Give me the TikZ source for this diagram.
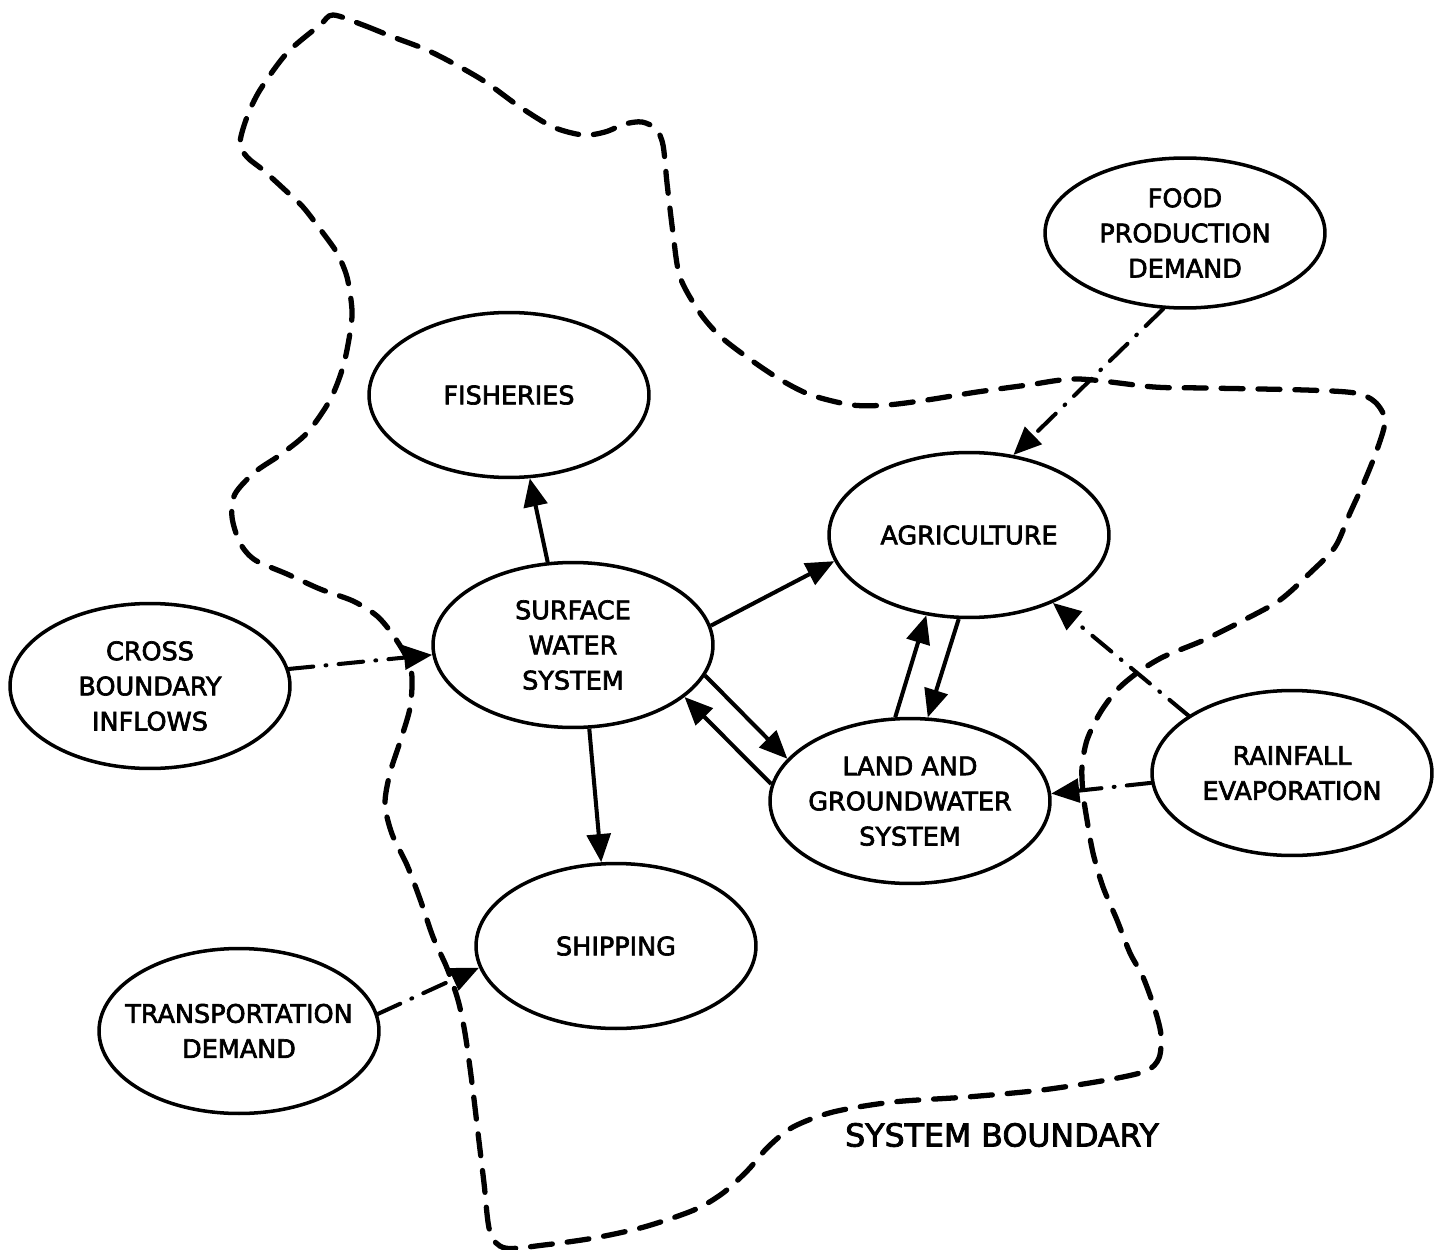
\documentclass[tikz,border=0pt]{standalone}
\usepackage{fontspec}
\setmainfont{DejaVu Sans}[BoldFont={DejaVu Sans}, BoldFeatures={FakeBold=2.6}]
\usetikzlibrary{arrows.meta,shapes.geometric}

% centred multi-line label that does not enlarge its ellipse
\newcommand{\ovaltxt}[1]{\smash{\raisebox{-4.9pt}{\makebox[0pt]{\begin{tabular}{@{}c@{}}#1\end{tabular}}}}}

\tikzset{
  oval/.style={ellipse, draw, line width=2pt, minimum width=5.6cm,
    minimum height=3.3cm, inner sep=0pt,
    font=\fontsize{14.5pt}{20pt}\selectfont\bfseries},
  flow/.style={-{Triangle[length=16pt,width=13.5pt]}, line width=2.3pt},
  feed/.style={flow, line cap=round,
    dash pattern=on 14pt off 7pt on 0.5pt off 7pt},
  boundary/.style={line width=3pt, line cap=round,
    dash pattern=on 12.5pt off 8.5pt},
}

\begin{document}
\begin{tikzpicture}[x=0.02cm, y=-0.02cm]
\fill[white] (0,0) rectangle (1440,1250);
\useasboundingbox (0,0) rectangle (1440,1250);

% system boundary
\draw[boundary] plot[smooth cycle, tension=0.5] coordinates {
 (333,15) (363,25) (393,37) (427,50) (460,67) (487,83) (520,107) (553,127)
 (583,135) (605,132) (625,124) (642,122) (656,129) (663,145) (667,183)
 (673,233) (680,277) (700,313) (721,337) (751,360) (781,380) (811,395)
 (852,405) (887,405) (927,400) (977,392) (1028,385) (1078,379) (1154,387)
 (1204,388) (1305,390) (1355,393) (1375,402) (1385,420) (1378,447)
 (1365,480) (1350,513) (1335,547) (1310,573) (1280,600) (1244,620)
 (1204,640) (1163,657) (1137,673) (1117,690) (1100,713) (1087,740)
 (1082,767) (1083,793) (1087,820) (1093,853) (1103,887) (1117,920)
 (1130,953) (1143,977) (1155,1010) (1161,1035) (1159,1058) (1146,1071)
 (1107,1080) (1042,1090) (967,1097) (893,1102) (833,1112) (793,1127)
 (768,1147) (748,1170) (723,1193) (694,1210) (644,1227) (594,1238)
 (544,1245) (505,1248) (490,1232) (484,1183) (478,1133) (472,1083)
 (465,1033) (458,1000) (447,968) (433,937) (420,899) (407,865) (392,834)
 (385,804) (390,773) (400,742) (410,708) (412,677) (407,658) (393,635)
 (377,616) (353,601) (320,589) (287,574) (255,560) (240,543) (232,517)
 (235,494) (255,472) (280,455) (307,433) (330,400) (343,367) (350,333)
 (352,310) (347,277) (337,253) (323,233) (303,207) (285,190) (263,170)
 (247,157) (240,143) (247,117) (260,90) (287,53) (320,25)};

\node[font=\fontsize{18pt}{22pt}\selectfont\bfseries] (sblabel) at (1002,1135) {SYSTEM BOUNDARY};

% subsystems and external drivers
\node[oval] (fish)  at (509,395)  {\ovaltxt{FISHERIES}};
\node[oval] (agri)  at (969,535)  {\ovaltxt{AGRICULTURE}};
\node[oval, minimum height=3.0cm] (food) at (1185,233) {\ovaltxt{FOOD\\PRODUCTION\\DEMAND}};
\node[oval] (surf)  at (573,645)  {\ovaltxt{SURFACE\\WATER\\SYSTEM}};
\node[oval] (cross) at (150,686)  {\ovaltxt{CROSS\\BOUNDARY\\INFLOWS}};
\node[oval] (land)  at (910,801)  {\ovaltxt{LAND AND\\GROUNDWATER\\SYSTEM}};
\node[oval] (rain)  at (1292,773) {\ovaltxt{RAINFALL\\EVAPORATION}};
\node[oval] (ship)  at (616,946)  {\ovaltxt{SHIPPING}};
\node[oval] (trans) at (239,1031) {\ovaltxt{TRANSPORTATION\\DEMAND}};

% internal flows
\draw[flow] (surf.107)   -- (fish.-76);
\draw[flow] (surf.8.7)   -- (agri.191);
\draw[flow] (surf.-13.7) -- (land.161.4);
\draw[flow] (land.173.4) -- (surf.-25.5);
\draw[flow] (surf.-79.8) -- (ship.100.9);
\draw[flow] (land.100.5) -- (agri.242.9);
\draw[flow] (agri.263.9) -- (land.78.1);

% external inputs
\draw[feed] (cross.7.4)  -- (surf.184);
\draw[feed] (food.254)   -- (agri.61.8);
\draw[feed] (rain.151.5) -- (agri.-39.2);
\draw[feed] (rain.184.1) -- (land.3.3);
\draw[feed] (trans.7.4)  -- (ship.189);
\end{tikzpicture}
\end{document}
